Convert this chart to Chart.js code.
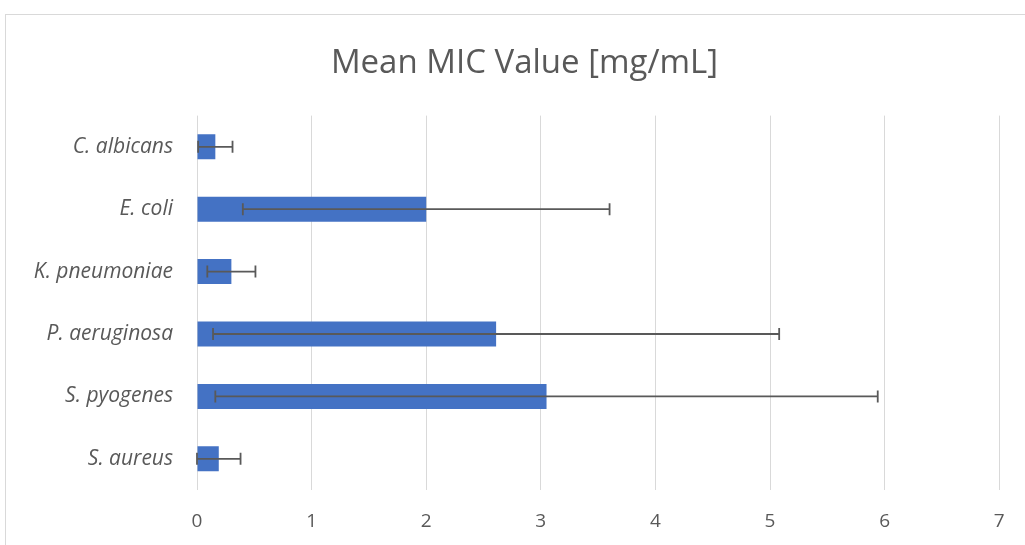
<!DOCTYPE html>
<html>
<head>
<meta charset="utf-8">
<script src="https://cdn.jsdelivr.net/npm/chart.js@4"></script>
<style>
  body { margin: 0; background: #fff; }
  #wrap { width: 1025px; height: 545px; }
</style>
</head>
<body>
<div id="wrap"><canvas id="graf" width="1025" height="545"></canvas></div>
<script>
// species and mean MIC values
let species = ["C. albicans", "E. coli", "K. pneumoniae", "P. aeruginosa", "S. pyogenes", "S. aureus"]
let meanMic = [0.16, 2.0, 0.30, 2.61, 3.05, 0.19]
let errMic = [0.15, 1.6, 0.21, 2.47, 2.89, 0.19]
let xTicks = [0, 1, 2, 3, 4, 5, 6, 7]

const graph = document.getElementById('graf')
const fontName = "'Open Sans', sans-serif"
const grey = "#595959"

// light frame round the chart, like the office chart box
const frame = {
  id: "frame",
  beforeDraw(chart) {
    let ctx = chart.ctx
    ctx.save()
    ctx.strokeStyle = "#d9d9d9"
    ctx.lineWidth = 1
    ctx.strokeRect(5.5, 14.5, 1100, 700)
    ctx.restore()
  }
}

// error bars drawn with the chart's own x scale
const errorBars = {
  id: "errorBars",
  afterDatasetsDraw(chart) {
    let ctx = chart.ctx
    let xs = chart.scales.x
    let meta = chart.getDatasetMeta(0)
    ctx.save()
    ctx.strokeStyle = grey
    ctx.lineWidth = 1.8
    for (let i = 0; i < meanMic.length; i++) {
      let y = meta.data[i].y
      let lo = xs.getPixelForValue(Math.max(0, meanMic[i] - errMic[i]))
      let hi = xs.getPixelForValue(meanMic[i] + errMic[i])
      ctx.beginPath()
      ctx.moveTo(lo, y)
      ctx.lineTo(hi, y)
      ctx.moveTo(lo, y - 6)
      ctx.lineTo(lo, y + 6)
      ctx.moveTo(hi, y - 6)
      ctx.lineTo(hi, y + 6)
      ctx.stroke()
    }
    ctx.restore()
  }
}

new Chart(graph, {
  type: "bar",
  data: {
    labels: species,
    datasets: [{
      data: meanMic,
      backgroundColor: "#4472C4",
      borderWidth: 0,
      barPercentage: 0.4,
      categoryPercentage: 1.0
    }]
  },
  plugins: [frame, errorBars],
  options: {
    indexAxis: "y",
    responsive: false,
    animation: false,
    layout: { padding: { left: 24, right: 0, top: 0, bottom: 0 } },
    plugins: {
      legend: { display: false },
      tooltip: { enabled: false },
      title: {
        display: true,
        text: "Mean MIC Value [mg/mL]",
        color: grey,
        font: { family: fontName, size: 33, weight: "normal" },
        padding: { top: 44, bottom: 32 }
      }
    },
    scales: {
      x: {
        min: 0,
        // plot runs on to the right edge, the grid stops at 7
        max: 7.225,
        afterBuildTicks(scale) {
          scale.ticks = xTicks.map(v => ({ value: v }))
        },
        afterFit(scale) { scale.height = 55 },
        grid: { color: "#d9d9d9", lineWidth: 1, drawTicks: false },
        border: { display: false },
        ticks: {
          color: grey,
          padding: 20,
          font: { family: fontName, size: 19 }
        }
      },
      y: {
        afterFit(scale) { scale.width = 173 },
        grid: { display: false, drawTicks: false },
        border: { display: false },
        ticks: {
          color: grey,
          padding: 24,
          font: { family: fontName, size: 21, style: "italic" }
        }
      }
    }
  }
})
</script>
</body>
</html>
